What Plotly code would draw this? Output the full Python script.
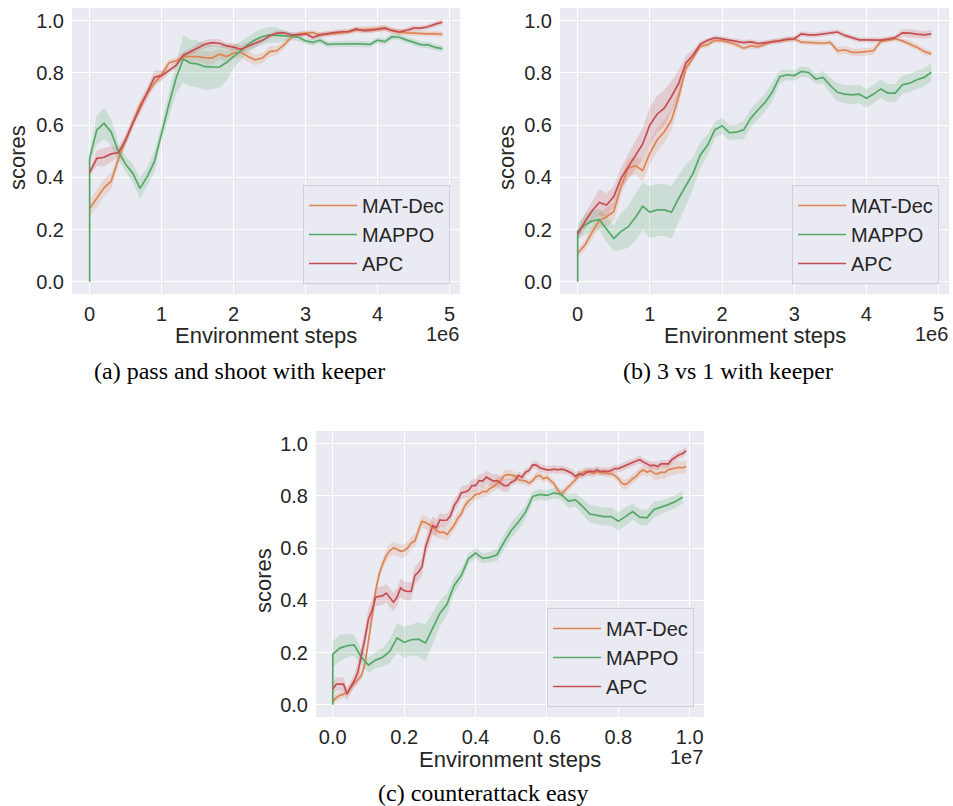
import plotly.graph_objects as go

# ---------------------------------------------------------------- data
# evaluation steps
STEPS_AB = [round(0.1 * i, 1) * 1e6 for i in range(50)]          # 0 .. 4.9e6
STEPS_C = [round(0.01 * i, 2) * 1e7 for i in range(100)]          # 0 .. 0.99e7
STEPS_C_MAPPO = [round(0.02 * i, 2) * 1e7 for i in range(50)]     # 0 .. 0.98e7

# (a) pass and shoot with keeper
matdec_a = [0.281, 0.32, 0.36, 0.386, 0.47, 0.543, 0.614, 0.678, 0.722, 0.761,
            0.793, 0.838, 0.847, 0.863, 0.863, 0.863, 0.859, 0.857, 0.872, 0.863,
            0.876, 0.879, 0.863, 0.85, 0.857, 0.882, 0.885, 0.908, 0.936, 0.949,
            0.953, 0.955, 0.946, 0.949, 0.951, 0.954, 0.957, 0.964, 0.967, 0.968,
            0.969, 0.972, 0.962, 0.957, 0.954, 0.953, 0.951, 0.95, 0.951, 0.948]
matdec_a_ci = [0.03, 0.035, 0.035, 0.03, 0.025, 0.02, 0.02, 0.02, 0.015, 0.015,
               0.015, 0.012, 0.012, 0.015, 0.02, 0.02, 0.025, 0.025, 0.02, 0.02,
               0.02, 0.02, 0.02, 0.02, 0.02, 0.02, 0.018, 0.015, 0.012, 0.01,
               0.01, 0.01, 0.01, 0.01, 0.01, 0.01, 0.01, 0.01, 0.012, 0.012,
               0.012, 0.012, 0.012, 0.012, 0.012, 0.01, 0.01, 0.01, 0.01, 0.01]
mappo_a = [0.0,
           0.473, 0.582, 0.607, 0.573, 0.499, 0.45, 0.416, 0.358, 0.403, 0.46,
           0.575, 0.678, 0.78, 0.854, 0.838, 0.835, 0.824, 0.822, 0.822, 0.84,
           0.863, 0.886, 0.908, 0.927, 0.94, 0.946, 0.945, 0.942, 0.94, 0.937,
           0.923, 0.917, 0.926, 0.91, 0.911, 0.912, 0.912, 0.912, 0.911, 0.91,
           0.926, 0.92, 0.939, 0.937, 0.927, 0.917, 0.909, 0.908, 0.898, 0.893]
mappo_a_ci = [0.025, 0.055, 0.06, 0.05, 0.03, 0.03, 0.035, 0.04, 0.035, 0.04,
              0.03, 0.05, 0.06, 0.09, 0.09, 0.09, 0.09, 0.085, 0.08, 0.07,
              0.045, 0.035, 0.03, 0.03, 0.03, 0.03, 0.03, 0.02, 0.015, 0.015,
              0.012, 0.012, 0.012, 0.012, 0.012, 0.012, 0.012, 0.012, 0.012, 0.012,
              0.012, 0.012, 0.012, 0.012, 0.012, 0.012, 0.012, 0.012, 0.012, 0.012]
apc_a = [0.418, 0.473, 0.477, 0.49, 0.495, 0.543, 0.607, 0.665, 0.722, 0.784,
         0.79, 0.81, 0.829, 0.867, 0.882, 0.898, 0.91, 0.916, 0.914, 0.904,
         0.899, 0.891, 0.904, 0.914, 0.925, 0.942, 0.953, 0.954, 0.946, 0.946,
         0.95, 0.936, 0.946, 0.951, 0.955, 0.958, 0.959, 0.969, 0.962, 0.963,
         0.967, 0.972, 0.963, 0.957, 0.963, 0.972, 0.972, 0.977, 0.987, 0.995]
apc_a_ci = [0.01, 0.03, 0.035, 0.03, 0.02, 0.02, 0.02, 0.025, 0.025, 0.025,
            0.02, 0.012, 0.012, 0.012, 0.012, 0.015, 0.015, 0.015, 0.015, 0.012,
            0.015, 0.015, 0.015, 0.015, 0.01, 0.01, 0.01, 0.01, 0.01, 0.01,
            0.01, 0.01, 0.01, 0.01, 0.01, 0.01, 0.01, 0.01, 0.01, 0.01,
            0.01, 0.01, 0.01, 0.01, 0.01, 0.01, 0.01, 0.01, 0.01, 0.01]

# (b) 3 vs 1 with keeper
matdec_b = [0.109, 0.141, 0.189, 0.235, 0.249, 0.269, 0.364, 0.435, 0.445, 0.426,
            0.492, 0.543, 0.575, 0.62, 0.71, 0.818, 0.859, 0.902, 0.908, 0.925,
            0.923, 0.917, 0.908, 0.895, 0.904, 0.9, 0.91, 0.921, 0.923, 0.928,
            0.931, 0.918, 0.916, 0.914, 0.914, 0.917, 0.885, 0.889, 0.879, 0.879,
            0.881, 0.885, 0.921, 0.925, 0.931, 0.923, 0.912, 0.899, 0.882, 0.873]
matdec_b_ci = [0.015, 0.02, 0.025, 0.03, 0.035, 0.035, 0.035, 0.035, 0.035, 0.04,
               0.045, 0.045, 0.045, 0.04, 0.035, 0.02, 0.015, 0.01, 0.01, 0.01,
               0.01, 0.01, 0.01, 0.01, 0.01, 0.01, 0.01, 0.01, 0.01, 0.01,
               0.01, 0.01, 0.01, 0.01, 0.01, 0.01, 0.015, 0.015, 0.015, 0.015,
               0.015, 0.015, 0.01, 0.01, 0.01, 0.01, 0.012, 0.012, 0.012, 0.012]
mappo_b = [0.0,
           0.194, 0.217, 0.233, 0.238, 0.202, 0.166, 0.192, 0.211, 0.246, 0.289,
           0.267, 0.275, 0.275, 0.266, 0.32, 0.371, 0.416, 0.486, 0.524, 0.582,
           0.598, 0.571, 0.573, 0.582, 0.627, 0.659, 0.688, 0.729, 0.786, 0.793,
           0.79, 0.806, 0.802, 0.777, 0.783, 0.752, 0.726, 0.719, 0.716, 0.719,
           0.703, 0.719, 0.739, 0.723, 0.723, 0.755, 0.761, 0.774, 0.783, 0.803]
mappo_b_ci = [0.03, 0.04, 0.04, 0.04, 0.05, 0.05, 0.07, 0.08, 0.09, 0.09,
              0.1, 0.1, 0.1, 0.1, 0.09, 0.08, 0.06, 0.05, 0.04, 0.03,
              0.03, 0.03, 0.03, 0.035, 0.035, 0.035, 0.035, 0.035, 0.025, 0.02,
              0.02, 0.02, 0.02, 0.02, 0.025, 0.03, 0.035, 0.035, 0.035, 0.035,
              0.035, 0.035, 0.035, 0.035, 0.035, 0.035, 0.035, 0.035, 0.035, 0.035]
apc_b = [0.182, 0.23, 0.272, 0.304, 0.294, 0.326, 0.396, 0.441, 0.486, 0.527,
         0.601, 0.642, 0.665, 0.71, 0.761, 0.838, 0.87, 0.91, 0.925, 0.935,
         0.931, 0.927, 0.921, 0.916, 0.919, 0.913, 0.917, 0.921, 0.923, 0.93,
         0.931, 0.95, 0.946, 0.946, 0.95, 0.954, 0.957, 0.944, 0.936, 0.927,
         0.927, 0.926, 0.926, 0.93, 0.936, 0.954, 0.953, 0.949, 0.946, 0.95]
apc_b_ci = [0.02, 0.03, 0.035, 0.05, 0.045, 0.04, 0.04, 0.05, 0.055, 0.06,
            0.07, 0.07, 0.07, 0.06, 0.05, 0.03, 0.02, 0.012, 0.01, 0.01,
            0.01, 0.01, 0.01, 0.01, 0.01, 0.01, 0.01, 0.01, 0.01, 0.01,
            0.01, 0.01, 0.01, 0.01, 0.01, 0.01, 0.01, 0.01, 0.01, 0.01,
            0.01, 0.01, 0.01, 0.01, 0.01, 0.015, 0.015, 0.015, 0.015, 0.015]

# (c) counterattack easy
matdec_c = [0.013, 0.028, 0.035, 0.041, 0.047, 0.064, 0.083, 0.095, 0.111, 0.156,
            0.239, 0.335, 0.437, 0.501, 0.54, 0.572, 0.591, 0.601, 0.596, 0.588,
            0.591, 0.601, 0.621, 0.627, 0.668, 0.703, 0.698, 0.691, 0.68, 0.668,
            0.66, 0.662, 0.652, 0.67, 0.688, 0.714, 0.731, 0.763, 0.78, 0.792,
            0.806, 0.808, 0.818, 0.816, 0.829, 0.836, 0.847, 0.859, 0.878, 0.882,
            0.88, 0.877, 0.862, 0.859, 0.857, 0.849, 0.859, 0.875, 0.879, 0.866,
            0.872, 0.859, 0.847, 0.824, 0.806, 0.821, 0.834, 0.847, 0.862, 0.879,
            0.891, 0.895, 0.89, 0.887, 0.893, 0.89, 0.887, 0.887, 0.885, 0.879,
            0.866, 0.849, 0.844, 0.853, 0.866, 0.875, 0.891, 0.9, 0.891, 0.898,
            0.887, 0.885, 0.891, 0.89, 0.9, 0.904, 0.908, 0.91, 0.908, 0.913]
matdec_c_ci = [0.015, 0.015, 0.015, 0.015, 0.015, 0.015, 0.015, 0.015, 0.015, 0.02,
               0.02, 0.02, 0.02, 0.02, 0.02, 0.025, 0.025, 0.025, 0.025, 0.025,
               0.025, 0.025, 0.025, 0.025, 0.025, 0.025, 0.025, 0.025, 0.025, 0.025,
               0.025, 0.025, 0.025, 0.025, 0.025, 0.025, 0.02, 0.02, 0.02, 0.02,
               0.02, 0.02, 0.02, 0.02, 0.02, 0.02, 0.02, 0.02, 0.02, 0.02,
               0.02, 0.015, 0.015, 0.015, 0.015, 0.015, 0.015, 0.015, 0.015, 0.015,
               0.015, 0.015, 0.015, 0.015, 0.015, 0.015, 0.015, 0.015, 0.015, 0.015,
               0.015, 0.015, 0.015, 0.015, 0.015, 0.015, 0.015, 0.015, 0.015, 0.015,
               0.018, 0.018, 0.018, 0.018, 0.018, 0.018, 0.018, 0.018, 0.018, 0.018,
               0.025, 0.025, 0.025, 0.025, 0.025, 0.025, 0.025, 0.025, 0.025, 0.025]
mappo_c = [0.0,
           0.194, 0.217, 0.226, 0.229, 0.182, 0.152, 0.171, 0.182, 0.205, 0.256,
           0.239, 0.249, 0.251, 0.237, 0.293, 0.35, 0.386, 0.457, 0.495, 0.559,
           0.581, 0.561, 0.565, 0.575, 0.623, 0.668, 0.7, 0.738, 0.798, 0.806,
           0.802, 0.812, 0.806, 0.78, 0.785, 0.76, 0.731, 0.725, 0.721, 0.721,
           0.703, 0.721, 0.74, 0.719, 0.716, 0.748, 0.757, 0.767, 0.779, 0.795]
mappo_c_ci = [0.05, 0.05, 0.045, 0.04, 0.03, 0.03, 0.03, 0.035, 0.045, 0.055,
              0.06, 0.06, 0.065, 0.07, 0.06, 0.05, 0.04, 0.03, 0.025, 0.02,
              0.02, 0.02, 0.02, 0.025, 0.03, 0.03, 0.03, 0.025, 0.02, 0.02,
              0.02, 0.02, 0.02, 0.025, 0.025, 0.03, 0.035, 0.035, 0.035, 0.035,
              0.035, 0.035, 0.03, 0.03, 0.03, 0.03, 0.025, 0.025, 0.025, 0.025]
apc_c = [0.06, 0.079, 0.079, 0.079, 0.041, 0.066, 0.092, 0.124, 0.182, 0.252,
         0.329, 0.361, 0.412, 0.414, 0.418, 0.428, 0.408, 0.393, 0.412, 0.448,
         0.437, 0.434, 0.435, 0.495, 0.508, 0.529, 0.604, 0.642, 0.687, 0.678,
         0.708, 0.706, 0.708, 0.725, 0.763, 0.783, 0.812, 0.815, 0.821, 0.84,
         0.84, 0.859, 0.857, 0.872, 0.866, 0.857, 0.859, 0.849, 0.84, 0.84,
         0.853, 0.859, 0.879, 0.872, 0.891, 0.898, 0.919, 0.918, 0.908, 0.904,
         0.9, 0.9, 0.903, 0.9, 0.903, 0.9, 0.895, 0.887, 0.875, 0.885,
         0.88, 0.89, 0.895, 0.893, 0.9, 0.893, 0.895, 0.893, 0.898, 0.905,
         0.905, 0.91, 0.918, 0.923, 0.928, 0.934, 0.939, 0.93, 0.923, 0.916,
         0.918, 0.913, 0.923, 0.923, 0.923, 0.939, 0.949, 0.958, 0.962, 0.974]
apc_c_ci = [0.025, 0.025, 0.025, 0.025, 0.025, 0.025, 0.025, 0.04, 0.04, 0.04,
            0.04, 0.04, 0.035, 0.035, 0.035, 0.035, 0.035, 0.035, 0.035, 0.035,
            0.035, 0.035, 0.035, 0.035, 0.035, 0.035, 0.035, 0.035, 0.035, 0.035,
            0.025, 0.025, 0.025, 0.025, 0.025, 0.025, 0.025, 0.025, 0.025, 0.025,
            0.025, 0.025, 0.025, 0.025, 0.025, 0.025, 0.025, 0.025, 0.025, 0.025,
            0.015, 0.015, 0.015, 0.015, 0.015, 0.015, 0.015, 0.015, 0.015, 0.015,
            0.015, 0.015, 0.015, 0.015, 0.015, 0.015, 0.015, 0.015, 0.015, 0.015,
            0.015, 0.015, 0.015, 0.015, 0.015, 0.015, 0.015, 0.015, 0.015, 0.015,
            0.015, 0.015, 0.015, 0.015, 0.015, 0.015, 0.015, 0.015, 0.015, 0.015,
            0.015, 0.015, 0.015, 0.015, 0.015, 0.015, 0.015, 0.015, 0.015, 0.015]

SERIES_NAMES = ["MAT-Dec", "MAPPO", "APC"]
Y_TICKS = [0.0, 0.2, 0.4, 0.6, 0.8, 1.0]
Y_TICK_TEXT = ["0.0", "0.2", "0.4", "0.6", "0.8", "1.0"]
X_TICKS_AB = [0, 1e6, 2e6, 3e6, 4e6, 5e6]
X_TICK_TEXT_AB = ["0", "1", "2", "3", "4", "5"]
X_TICKS_C = [0, 0.2e7, 0.4e7, 0.6e7, 0.8e7, 1.0e7]
X_TICK_TEXT_C = ["0.0", "0.2", "0.4", "0.6", "0.8", "1.0"]
CAPTIONS = ["(a) pass and shoot with keeper", "(b) 3 vs 1 with keeper", "(c) counterattack easy"]

# ---------------------------------------------------------------- style
W, H = 953, 806
COLORS = {"MAT-Dec": (221, 132, 82), "MAPPO": (85, 168, 104), "APC": (196, 78, 82)}
SANS = "Liberation Sans, Arial, sans-serif"
SERIF = "Liberation Serif, Times New Roman, serif"
TEXT = "#262626"
BG = "#EAEAF2"


def px_x(p):
    return p / W


def px_y(p):
    return 1 - p / H


fig = go.Figure()

panels = [
    dict(sfx="", leg="legend", box=(72, 8, 460, 294), xr=[-0.245e6, 5.145e6],
         xt=(X_TICKS_AB, X_TICK_TEXT_AB), mult="1e6",
         data=[(STEPS_AB, matdec_a, matdec_a_ci),
               ([0.0] + STEPS_AB, mappo_a, mappo_a_ci),
               (STEPS_AB, apc_a, apc_a_ci)],
         legend_at=(450, 284), caption=(240, 371), ylab_x=18),
    dict(sfx="2", leg="legend2", box=(560, 8, 949, 294), xr=[-0.245e6, 5.145e6],
         xt=(X_TICKS_AB, X_TICK_TEXT_AB), mult="1e6",
         data=[(STEPS_AB, matdec_b, matdec_b_ci),
               ([0.0] + STEPS_AB, mappo_b, mappo_b_ci),
               (STEPS_AB, apc_b, apc_b_ci)],
         legend_at=(939, 284), caption=(728, 371), ylab_x=507),
    dict(sfx="3", leg="legend3", box=(316, 431, 704, 717), xr=[-0.047e7, 1.04e7],
         xt=(X_TICKS_C, X_TICK_TEXT_C), mult="1e7",
         data=[(STEPS_C, matdec_c, matdec_c_ci),
               ([0.0] + STEPS_C_MAPPO, mappo_c, mappo_c_ci),
               (STEPS_C, apc_c, apc_c_ci)],
         legend_at=(694, 707), caption=(483, 793), ylab_x=263),
]

annotations = []
for i, p in enumerate(panels):
    xa, ya = "x" + p["sfx"], "y" + p["sfx"]
    x0, y0, x1, y1 = p["box"]

    # confidence bands first so every line sits above every band
    for name, (xs, ys, ci) in zip(SERIES_NAMES, p["data"]):
        if name == "MAPPO":
            xs, ys = xs[1:], ys[1:]
        up = [v + c for v, c in zip(ys, ci)]
        lo = [v - c for v, c in zip(ys, ci)]
        r, g, b = COLORS[name]
        fig.add_trace(go.Scatter(
            x=list(xs) + list(xs)[::-1], y=up + lo[::-1], fill="toself",
            fillcolor=f"rgba({r},{g},{b},0.2)", line=dict(width=0), mode="lines",
            hoverinfo="skip", showlegend=False, xaxis=xa, yaxis=ya))
    for name, (xs, ys, ci) in zip(SERIES_NAMES, p["data"]):
        r, g, b = COLORS[name]
        fig.add_trace(go.Scatter(
            x=xs, y=ys, mode="lines", name=name, legend=p["leg"],
            line=dict(color=f"rgb({r},{g},{b})", width=1.7),
            xaxis=xa, yaxis=ya))

    axis_common = dict(showgrid=True, gridcolor="white", gridwidth=1.3, zeroline=False,
                       showline=False, ticks="", tickfont=dict(family=SANS, size=20, color=TEXT))
    fig.update_layout(**{
        "xaxis" + p["sfx"]: dict(domain=[px_x(x0), px_x(x1)], range=p["xr"], anchor=ya,
                                 tickvals=p["xt"][0], ticktext=p["xt"][1],
                                 ticklabelstandoff=6, **axis_common),
        "yaxis" + p["sfx"]: dict(domain=[px_y(y1), px_y(y0)], range=[-0.047, 1.049], anchor=xa,
                                 tickvals=Y_TICKS, ticktext=Y_TICK_TEXT,
                                 ticklabelstandoff=7, **axis_common),
        p["leg"]: dict(x=px_x(p["legend_at"][0]), y=px_y(p["legend_at"][1]),
                       xanchor="right", yanchor="bottom", xref="paper", yref="paper",
                       itemwidth=48,
                       bgcolor="rgba(234,234,242,0.8)", bordercolor="#cfcfd6", borderwidth=1,
                       font=dict(family=SANS, size=20, color=TEXT)),
    })

    cx = (x0 + x1) / 2
    annotations += [
        dict(text="Environment steps", x=px_x(cx), y=px_y(y1 + 42), xref="paper", yref="paper",
             xanchor="center", yanchor="middle", showarrow=False,
             font=dict(family=SANS, size=22, color=TEXT)),
        dict(text=p["mult"], x=px_x(x1 + 1), y=px_y(y1 + 40), xref="paper", yref="paper",
             xanchor="right", yanchor="middle", showarrow=False,
             font=dict(family=SANS, size=20, color=TEXT)),
        dict(text="scores", x=px_x(p["ylab_x"]), y=px_y((y0 + y1) / 2 + 7), xref="paper", yref="paper",
             xanchor="center", yanchor="middle", textangle=-90, showarrow=False,
             font=dict(family=SANS, size=22, color=TEXT)),
        dict(text=CAPTIONS[i], x=px_x(p["caption"][0]), y=px_y(p["caption"][1]),
             xref="paper", yref="paper", xanchor="center", yanchor="middle", showarrow=False,
             font=dict(family=SERIF, size=24, color="black")),
    ]

fig.update_layout(
    width=W, height=H, margin=dict(l=0, r=0, t=0, b=0),
    plot_bgcolor=BG, paper_bgcolor="white", annotations=annotations,
    font=dict(family=SANS, color=TEXT),
)

fig.write_html("out.html")
